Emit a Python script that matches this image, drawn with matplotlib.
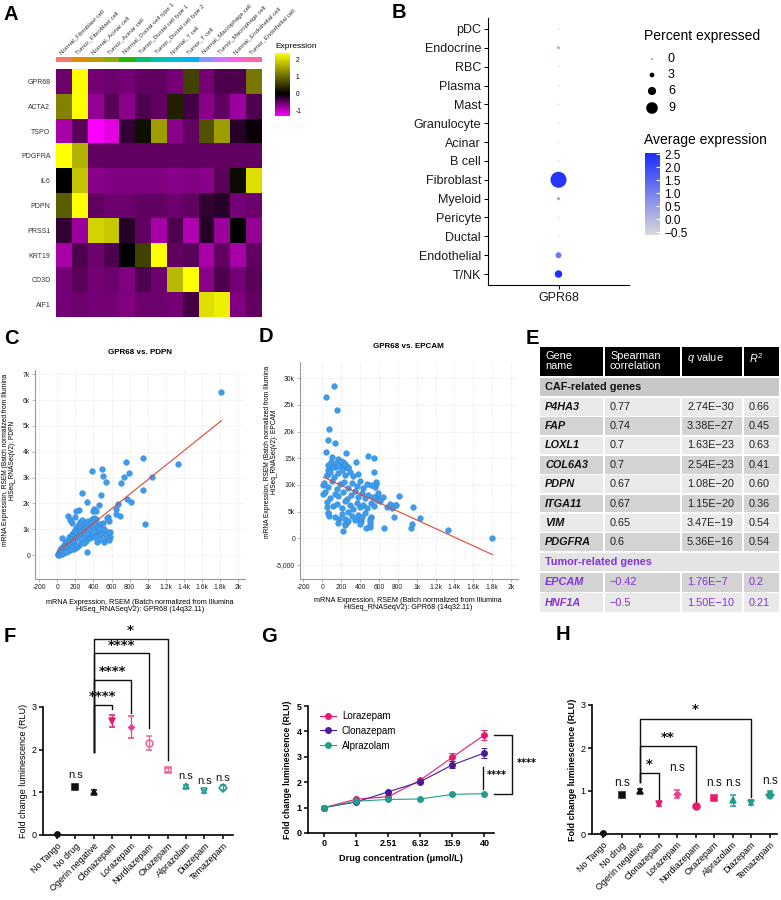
import numpy as np
import matplotlib
matplotlib.use("Agg")
import matplotlib.pyplot as plt
from matplotlib.colors import LinearSegmentedColormap, ListedColormap
from matplotlib.patches import Rectangle
from matplotlib.lines import Line2D

plt.rcParams['font.family'] = ['Liberation Sans', 'DejaVu Sans']
plt.rcParams['mathtext.fontset'] = 'custom'
plt.rcParams['mathtext.rm'] = 'Liberation Sans'
plt.rcParams['mathtext.it'] = 'Liberation Sans:italic'
plt.rcParams['mathtext.bf'] = 'Liberation Sans:bold'

# ---------------- data ----------------
# A: heatmap
hm_genes = ['GPR68', 'ACTA2', 'TSPO', 'PDGFRA', 'IL6', 'PDPN', 'PRSS1', 'KRT19', 'CD3D', 'AIF1']
hm_cells = ['Normal_Fibroblast cell', 'Tumor_Fibroblast cell', 'Normal_Acinar cell', 'Tumor_Acinar cell',
            'Normal_Ductal cell type 1', 'Tumor_Ductal cell type 1', 'Tumor_Ductal cell type 2',
            'Normal_T cell', 'Tumor_T cell', 'Normal_Macrophage cell', 'Tumor_Macrophage cell',
            'Normal_Endothelial cell', 'Tumor_Endothelial cell']
hm_values = np.array([
    [-0.55, 2.35, -0.6, -0.55, -0.6, -0.5, -0.5, -0.6, 0.6, -0.6, -0.4, -0.4, 1.1],
    [1.2, 2.35, -0.75, -0.45, -0.7, -0.4, -0.5, 0.3, -0.35, -0.7, -0.5, -0.8, -0.4],
    [-0.85, -0.45, -1.3, -1.15, -0.25, 0.15, 1.45, -0.7, -0.5, 0.75, 1.45, -0.2, -0.05],
    [2.35, 1.65, -0.5, -0.5, -0.5, -0.5, -0.5, -0.5, -0.5, -0.5, -0.5, -0.5, -0.5],
    [0.0, 1.8, -0.7, -0.65, -0.65, -0.65, -0.65, -0.7, -0.65, -0.7, -0.45, 0.1, 2.05],
    [0.85, 2.35, -0.5, -0.55, -0.55, -0.5, -0.5, -0.55, -0.5, -0.25, -0.2, -0.6, -0.55],
    [-0.25, -0.8, 1.95, 1.85, -0.2, -0.5, -0.85, -0.4, -0.9, -0.2, -0.8, 0.0, -0.75],
    [-0.85, -0.4, -0.55, -0.4, 0.0, 0.6, 2.35, -0.5, -0.45, -0.85, -0.5, -0.85, -0.5],
    [-0.6, -0.45, -0.6, -0.55, -0.65, -0.4, -0.55, 1.7, 2.35, -0.7, -0.4, -0.6, -0.45],
    [-0.6, -0.55, -0.6, -0.6, -0.65, -0.55, -0.55, -0.6, -0.35, 2.05, 2.2, -0.65, -0.5],
])
strip_colors = ['#F8766D', '#E18A00', '#BE9C00', '#8CAB00', '#24B700', '#00BE70', '#00C1AB',
                '#00BBDA', '#00ACFC', '#8B93FF', '#D575FE', '#F962DD', '#FF65AC']

# B: dot plot
b_cells = ['pDC', 'Endocrine', 'RBC', 'Plasma', 'Mast', 'Granulocyte', 'Acinar', 'B cell',
           'Fibroblast', 'Myeloid', 'Pericyte', 'Ductal', 'Endothelial', 'T/NK']
b_pct = [0.3, 1.6, 0.3, 0.3, 0.3, 0.3, 0.3, 0.35, 12.8, 1.7, 0.3, 0.3, 4.2, 5.4]
b_avg = [-0.5, 0.1, -0.5, -0.5, -0.5, -0.5, -0.5, -0.45, 2.35, 0.35, -0.5, -0.5, 1.1, 2.5]
b_leg_pct = [0, 3, 6, 9]

# C: GPR68 vs PDPN
c_x = [1814, 1336, 1049, 942, 950, 968, 762, 788, 740, 707, 770, 813, 670, 644, 648, 692, 497, 508, 541,
       379, 276, 324, 482, 460, 408, 395, 425, 243, 202, 121, 140, 158, 195, 563, 552, 574, 475, 581,
       560, 581, 515, 434, 331, 48,
       5, 10, 15, 20, 25, 30, 35, 40, 45, 50, 55, 60, 65, 70, 75, 80, 85, 90, 95, 100, 105, 110, 115,
       120, 125, 130, 135, 140, 145, 150, 155, 160, 165, 170, 175, 180, 185, 190, 195, 200, 205, 210,
       215, 220, 225, 230, 235, 240, 245, 250, 255, 260, 265, 270, 275, 280, 290, 300, 310, 320, 330,
       340, 350, 360, 370, 380, 390, 400, 410, 420, 430, 440, 450, 460, 470, 480, 490, 500, 520, 535,
       550, 570, 300, 320, 340, 360, 380, 400, 420, 260, 240, 220, 200, 180, 160, 140, 120, 100, 280, 300]
c_y = [6320, 3520, 3005, 3767, 2500, 1200, 3586, 3186, 3005, 2773, 2167, 2038, 1960, 1767, 1600, 1522,
       3341, 3057, 2838, 3250, 2400, 2038, 2322, 1935, 1780, 1720, 1690, 1754, 1716, 1509, 1354, 1225,
       1483, 1483, 1419, 1316, 1187, 903, 880, 709, 516, 490, 129, 670,
       0, 40, 100, 10, 150, 60, 200, 120, 260, 30, 180, 320, 90, 250, 400, 160, 300, 450, 210, 350, 520,
       260, 420, 600, 320, 480, 680, 380, 560, 750, 430, 620, 820, 500, 700, 900, 560, 760, 980, 620,
       840, 1050, 680, 900, 1120, 740, 960, 1200, 800, 1020, 1280, 860, 1080, 1350, 920, 1140, 980,
       1200, 1050, 1260, 1120, 1320, 1180, 1000, 1250, 1400, 1100, 1300, 1450, 1200, 1380, 900, 1100,
       760, 1000, 620, 840, 1250, 1000, 780, 650, 580, 700, 560, 820, 640, 760, 880, 700, 520, 400, 300,
       350, 250, 300, 200, 150, 100, 600, 450]
c_fit = (2.81, 105)

# D: GPR68 vs EPCAM
d_x = [127, 39, 155, 74, 64, 134, 39, 251, 106, 480, 544, 360, 544, 170, 219, 205, 88, 134, 276, 64, 46,
       11, 11, 53, 57, 71, 173, 222, 240, 265, 467, 406, 392, 505, 509, 519, 650, 760, 943, 947, 961,
       1039, 1332, 1802, 816, 781, 767, 647, 583, 558, 565, 615, 580, 682, 721, 742,
       64, 92, 116, 145, 170, 198, 222, 240, 276,
       46, 81, 127, 162, 205, 240, 293, 329, 382,
       21, 57, 99, 152, 187, 233, 276, 318, 364, 399, 435, 470, 516, 565,
       28, 81, 134, 170, 223, 258, 304, 346, 382, 417, 452, 488, 541, 587,
       46, 117, 152, 205, 240, 293, 329, 364, 399, 435, 470, 516, 551,
       64, 134, 205, 240, 276, 311, 346, 382, 417, 452, 505,
       170, 240, 276, 399, 505]
d_y = [28560, 26560, 24125, 20440, 18440, 17940, 16125, 16060, 15310, 15500, 15000, 14250, 12500, 14800,
       14250, 13625, 13625, 13440, 13125, 12800, 11875, 10000, 8250, 5800, 4700, 4250, 3560, 1440, 2625,
       3125, 1875, 3190, 3690, 2190, 2690, 4060, 2000, 4000, 2000, 2690, 5875, 3750, 1500, 0, 7875, 6310,
       6300, 7810, 7940, 9690, 10190, 7060, 7190, 5940, 6440, 5625,
       13800, 14300, 13400, 14100, 13600, 14500, 13200, 13900, 13400,
       11900, 12500, 11500, 12200, 12800, 11800, 12400, 11600, 12000,
       10400, 9600, 10800, 9300, 10100, 10600, 9500, 10300, 9800, 10700, 9400, 10200, 9900, 10500,
       8600, 7600, 8300, 7900, 8700, 7400, 8200, 8800, 7700, 8400, 7500, 8100, 7800, 8500,
       6800, 6000, 6500, 5700, 6900, 6200, 5500, 6600, 5900, 6300, 5600, 6700, 6100,
       4800, 4000, 4600, 3700, 5000, 4200, 3500, 4400, 3900, 4700, 3600,
       2900, 2500, 3200, 2700, 3300]
d_fit = (-8.1, 11550)
scat_xticks = [-200, 0, 200, 400, 600, 800, 1000, 1200, 1400, 1600, 1800, 2000]
scat_xlabels = ['-200', '0', '200', '400', '600', '800', '1k', '1.2k', '1.4k', '1.6k', '1.8k', '2k']

# E: table
e_genes = ['P4HA3', 'FAP', 'LOXL1', 'COL6A3', 'PDPN', 'ITGA11', 'VIM', 'PDGFRA']
e_rho = ['0.77', '0.74', '0.7', '0.7', '0.67', '0.67', '0.65', '0.6']
e_q = ['2.74E\u221230', '3.38E\u221227', '1.63E\u221223', '2.54E\u221223', '1.08E\u221220',
       '1.15E\u221220', '3.47E\u221219', '5.36E\u221216']
e_r2 = ['0.66', '0.45', '0.63', '0.41', '0.60', '0.36', '0.54', '0.54']
t_genes = ['EPCAM', 'HNF1A']
t_rho = ['\u22120.42', '\u22120.5']
t_q = ['1.76E\u22127', '1.50E\u221210']
t_r2 = ['0.2', '0.21']

# F / H: single dose screens
drugs = ['No Tango', 'No drug', 'Ogerin negative', 'Clonazepam', 'Lorazepam', 'Nordiazepam',
         'Oxazepam', 'Alprazolam', 'Diazepam', 'Temazepam']
f_mean = [0.02, 1.12, 1.00, 2.67, 2.53, 2.16, 1.52, 1.14, 1.02, 1.11]
f_err = [0.0, 0.02, 0.05, 0.14, 0.25, 0.17, 0.05, 0.03, 0.04, 0.06]
h_mean = [0.02, 0.91, 1.00, 0.70, 0.93, 0.66, 0.83, 0.78, 0.73, 0.91]
h_err = [0.0, 0.05, 0.04, 0.04, 0.10, 0.02, 0.03, 0.12, 0.05, 0.08]
# brackets: (from, to, top, right leg bottom, label, label y)
f_brackets = [(2, 3, 3.05, 2.95, '****', 3.25), (2, 4, 3.63, 2.85, '****', 3.84),
              (2, 5, 4.26, 2.5, '****', 4.45), (2, 6, 4.6, 1.75, '*', 4.8)]
f_leg_bottom = 1.95
h_brackets = [(2, 3, 1.42, 0.8, '*', 1.62), (2, 5, 2.05, 0.75, '**', 2.25), (2, 8, 2.67, 0.85, '*', 2.9)]
h_leg_bottom = 1.2
f_ns = {1: 1.3, 7: 1.27, 8: 1.14, 9: 1.21}
h_ns = {1: 1.05, 4: 1.4, 6: 1.05, 7: 1.05, 9: 1.1}

# G: dose response
g_conc = ['0', '1', '2.51', '6.32', '15.9', '40']
g_loraz = [1.0, 1.33, 1.43, 2.08, 2.98, 3.86]
g_loraz_err = [0.02, 0.04, 0.05, 0.06, 0.15, 0.2]
g_clonaz = [1.0, 1.22, 1.62, 2.02, 2.68, 3.15]
g_clonaz_err = [0.02, 0.03, 0.05, 0.05, 0.14, 0.18]
g_alpraz = [1.0, 1.25, 1.32, 1.34, 1.52, 1.55]
g_alpraz_err = [0.02, 0.03, 0.03, 0.03, 0.04, 0.03]

# ---------------- figure ----------------
W, H = 781, 900
fig = plt.figure(figsize=(W / 100, H / 100), dpi=100)


def px_axes(l, t, r, b):
    return fig.add_axes([l / W, 1 - b / H, (r - l) / W, (b - t) / H])


BLACK = '#111111'
PINK1 = '#E8196F'
PINK2 = '#EE3D8F'
PINK3 = '#F0609A'
TEAL = '#239C8D'
PURPLE = '#8533D6'
CLON = '#4B1A9A'

# ---- A ----
vmin, vmax = -1.3, 2.35
z0 = -vmin / (vmax - vmin)
hm_cmap = LinearSegmentedColormap.from_list('hm', [(0, '#FF00FF'), (z0, '#000000'), (1, '#FFFF00')])
ax_a = px_axes(56, 69, 262, 317)
im = ax_a.imshow(hm_values, cmap=hm_cmap, vmin=vmin, vmax=vmax, aspect='auto', interpolation='nearest')
ax_a.set_xticks([])
ax_a.set_yticks(range(len(hm_genes)), hm_genes, fontsize=5, color='#333333')
ax_a.tick_params(axis='y', length=0, pad=4)
for s in ax_a.spines.values():
    s.set_visible(False)

ax_strip = px_axes(56, 57, 262, 62)
ax_strip.imshow(np.arange(len(hm_cells))[None, :], cmap=ListedColormap(strip_colors), aspect='auto')
ax_strip.axis('off')

cax_a = px_axes(275, 53, 290, 116)
cb_a = fig.colorbar(im, cax=cax_a, ticks=[2, 1, 0, -1])
cb_a.ax.set_yticklabels(['2', '1', '0', '-1'])
cb_a.outline.set_visible(False)
cax_a.tick_params(labelsize=4.8, length=2, color='white', pad=2)

# ---- B ----
def dot_size(p):
    r = 0.6 + 0.58 * np.asarray(p, dtype=float)
    return (2 * r * 0.72) ** 2

b_cmap = LinearSegmentedColormap.from_list('b', ['#D9D9D9', '#1A2BFF'])
ax_b = px_axes(488, 18, 629, 285)
yb = np.arange(len(b_cells))
sc_b = ax_b.scatter(np.ones(len(b_cells)), yb, s=dot_size(b_pct), c=b_avg, cmap=b_cmap,
                    vmin=-0.6, vmax=2.55, linewidths=0)
ax_b.set_xlim(0, 2)
ax_b.set_ylim(13.58, -0.58)
ax_b.set_yticks(yb, b_cells, fontsize=9, color='#1a1a1a')
ax_b.set_xticks([1], ['GPR68'], fontsize=9, color='#1a1a1a')
ax_b.tick_params(length=3, width=0.7, pad=2)
for s in ['top', 'right']:
    ax_b.spines[s].set_visible(False)
for s in ['left', 'bottom']:
    ax_b.spines[s].set_linewidth(0.8)

cax_b = px_axes(645, 153, 660, 235)
b_ticks = [2.5, 2.0, 1.5, 1.0, 0.5, 0.0, -0.5]
cb_b = fig.colorbar(sc_b, cax=cax_b, ticks=b_ticks)
cb_b.ax.set_yticklabels([f'{t:.1f}'.replace('-', '\u2212') for t in b_ticks])
cb_b.outline.set_visible(False)
cax_b.tick_params(labelsize=8.5, length=3, color='white', direction='in', pad=3)

# ---- C, D ----
def corr_panel(ax, x, y, fit, xlim, ylim, yticks, ylabels):
    ax.set_xlim(xlim)
    ax.set_ylim(ylim)
    ax.set_xticks(scat_xticks, scat_xlabels)
    ax.set_yticks(yticks, ylabels)
    ax.grid(True, color='#E6E6E6', lw=0.5, ls=(0, (3, 2)))
    ax.set_axisbelow(True)
    ax.scatter(x, y, s=17, color='#3F9BEB', edgecolors='#2E84D6', linewidths=0.3, zorder=3)
    xs = np.array([min(x), max(x)])
    ax.plot(xs, fit[0] * xs + fit[1], color='#E0473A', lw=0.8, zorder=4)
    for s in ['top', 'right']:
        ax.spines[s].set_visible(False)
    for s in ['left', 'bottom']:
        ax.spines[s].set_color('#999999')
        ax.spines[s].set_linewidth(0.8)
    ax.tick_params(labelsize=4.9, length=2, width=0.5, color='#999999', labelcolor='#222222', pad=1.5)

ax_c = px_axes(35, 370, 245, 579)
corr_panel(ax_c, c_x, c_y, c_fit, (-246, 2074), (-929, 7162),
           [0, 1000, 2000, 3000, 4000, 5000, 6000, 7000], ['0', '1k', '2k', '3k', '4k', '5k', '6k', '7k'])
ax_d = px_axes(300, 362, 518, 579)
corr_panel(ax_d, d_x, d_y, d_fit, (-236, 2074), (-7630, 33050),
           [-5000, 0, 5000, 10000, 15000, 20000, 25000, 30000],
           ['-5,000', '0', '5k', '10k', '15k', '20k', '25k', '30k'])

# ---- E ----
ax_e = px_axes(539, 346, 780, 613)
ax_e.set_xlim(539, 780)
ax_e.set_ylim(613, 346)
ax_e.axis('off')
cols = [539, 604, 681, 743, 780]
g = 0.8
TFS = 7.8


def cell(x0, x1, y0, y1, color):
    ax_e.add_patch(Rectangle((x0 + g, y0 + g), x1 - x0 - 2 * g, y1 - y0 - 2 * g, color=color, lw=0))


for c in range(4):
    cell(cols[c], cols[c + 1], 346, 377, '#000000')
heads = ['Gene\nname', 'Spearman\ncorrelation', '$q$ value', '$R^2$']
for c, h in enumerate(heads):
    ax_e.text(cols[c] + 6, 351, h, color='white', fontsize=TFS, va='top', ha='left', linespacing=1.05)
cell(539, 780, 377, 397, '#C8C8C8')
ax_e.text(545, 387, 'CAF-related genes', fontsize=TFS, weight='bold', va='center', color='#111111')
rh = (552 - 397) / len(e_genes)
for r in range(len(e_genes)):
    y0 = 397 + r * rh
    bg = '#EAEAEA' if r % 2 == 0 else '#D3D3D3'
    for c in range(4):
        cell(cols[c], cols[c + 1], y0, y0 + rh, bg)
    yc = y0 + rh / 2
    ax_e.text(545, yc, e_genes[r], fontsize=TFS, weight='bold', style='italic', va='center', color='#111111')
    ax_e.text(610, yc, e_rho[r], fontsize=TFS, va='center', color='#222222')
    ax_e.text(687, yc, e_q[r], fontsize=TFS, va='center', color='#222222')
    ax_e.text(749, yc, e_r2[r], fontsize=TFS, va='center', color='#222222')
cell(539, 780, 552, 572, '#E4E4E4')
ax_e.text(545, 562, 'Tumor-related genes', fontsize=TFS, weight='bold', va='center', color=PURPLE)
for r in range(len(t_genes)):
    y0 = 572 + r * 20.5
    bg = '#D3D3D3' if r % 2 == 0 else '#EAEAEA'
    for c in range(4):
        cell(cols[c], cols[c + 1], y0, y0 + 20.5, bg)
    yc = y0 + 10.25
    ax_e.text(545, yc, t_genes[r], fontsize=TFS, weight='bold', style='italic', va='center', color=PURPLE)
    ax_e.text(610, yc, t_rho[r], fontsize=TFS, va='center', color=PURPLE)
    ax_e.text(687, yc, t_q[r], fontsize=TFS, va='center', color=PURPLE)
    ax_e.text(749, yc, t_r2[r], fontsize=TFS, va='center', color=PURPLE)

# ---- F, H ----
f_styles = [('o', BLACK, BLACK, 3.8), ('s', BLACK, BLACK, 4.2), ('^', BLACK, BLACK, 3.8),
            ('v', PINK1, PINK1, 4.5), ('D', PINK2, PINK2, 2.8), ('o', 'none', PINK3, 5),
            ('s', 'none', PINK3, 5), ('^', 'none', TEAL, 4.5), ('v', 'none', TEAL, 4.5),
            ('D', 'none', TEAL, 4)]
h_styles = [('o', BLACK, BLACK, 3.8), ('s', BLACK, BLACK, 4.5), ('^', BLACK, BLACK, 3.8),
            ('v', PINK1, PINK1, 4), ('D', PINK2, PINK2, 3.2), ('o', PINK1, PINK1, 5),
            ('s', PINK1, PINK1, 5), ('^', TEAL, TEAL, 5), ('v', TEAL, TEAL, 5),
            ('D', TEAL, TEAL, 4.5)]


def screen_panel(ax, means, errs, styles, xlim, brackets, leg_bottom, ns, bold_ylabel, star_fs, ns_fs):
    for i, (m, e, (mk, fc, ec, ms)) in enumerate(zip(means, errs, styles)):
        ax.errorbar(i, m, yerr=e, fmt=mk, mfc=fc, mec=ec, ecolor=ec, ms=ms, mew=1.1,
                    capsize=2, elinewidth=0.9, capthick=0.9, clip_on=False, zorder=3)
    ax.set_xlim(xlim)
    ax.set_ylim(0, 3)
    ax.set_yticks([0, 1, 2, 3])
    ax.set_xticks(range(len(drugs)))
    ax.set_xticklabels(drugs, rotation=45, ha='right', rotation_mode='anchor')
    ax.tick_params(axis='both', length=3, width=1.1, labelsize=6.5, pad=1.5)
    for s in ['top', 'right']:
        ax.spines[s].set_visible(False)
    for s in ['left', 'bottom']:
        ax.spines[s].set_linewidth(1.2)
    ax.set_ylabel('Fold change luminescence (RLU)', fontsize=6.5,
                  weight='bold' if bold_ylabel else 'normal', labelpad=3)
    for (i, j, top, rb, lab, ly) in brackets:
        ax.plot([i, i, j, j], [leg_bottom, top, top, rb], color=BLACK, lw=1.0, clip_on=False)
        ax.text((i + j) / 2, ly, lab, ha='center', va='center', fontsize=star_fs, color=BLACK,
                family='DejaVu Sans', weight='bold', clip_on=False)
    for k, y in ns.items():
        ax.text(k, y, 'n.s', ha='center', va='bottom', fontsize=ns_fs, color=BLACK)


ax_f = px_axes(43, 707, 233, 835)
screen_panel(ax_f, f_mean, f_err, f_styles, (-0.75, 9.55), f_brackets, f_leg_bottom, f_ns, False, 9.5, 8)
ax_h = px_axes(592, 705, 777, 834)
screen_panel(ax_h, h_mean, h_err, h_styles, (-0.6, 9.4), h_brackets, h_leg_bottom, h_ns, True, 9.5, 8.5)

# ---- G ----
ax_g = px_axes(308, 706, 494, 833)
xg = np.arange(len(g_conc))
g_series = [(g_loraz, g_loraz_err, PINK1, 'Lorazepam'),
            (g_clonaz, g_clonaz_err, CLON, 'Clonazepam'),
            (g_alpraz, g_alpraz_err, TEAL, 'Alprazolam')]
handles = []
for vals, errs, col, lab in g_series:
    ax_g.errorbar(xg, vals, yerr=errs, color=col, marker='o', ms=4, lw=0.8, capsize=2,
                  elinewidth=0.7, capthick=0.7, clip_on=False, zorder=3)
    handles.append(Line2D([], [], color=col, marker='o', ms=4, lw=0.8, label=lab))
ax_g.set_xlim(-0.5, 5.3)
ax_g.set_ylim(0, 5)
ax_g.set_yticks(range(6))
ax_g.set_xticks(xg, g_conc)
for lab in ax_g.get_xticklabels() + ax_g.get_yticklabels():
    lab.set_fontweight('bold')
ax_g.tick_params(length=3, width=1.1, labelsize=6.5, pad=1.5)
for s in ['top', 'right']:
    ax_g.spines[s].set_visible(False)
for s in ['left', 'bottom']:
    ax_g.spines[s].set_linewidth(1.2)
ax_g.set_ylabel('Fold change luminescence (RLU)', fontsize=6.3, weight='bold', labelpad=3)
ax_g.set_xlabel('Drug concentration (\u03bcmol/L)', fontsize=6.6, weight='bold', labelpad=4)
ax_g.legend(handles=handles, loc='upper left', bbox_to_anchor=(0.02, 1.03), frameon=False, fontsize=7,
            handlelength=1.6, labelspacing=0.5, handletextpad=0.6)
ax_g.plot([5.3, 5.86, 5.86, 5.3], [g_loraz[-1], g_loraz[-1], g_alpraz[-1], g_alpraz[-1]],
          color=BLACK, lw=1.0, clip_on=False)
ax_g.text(6.0, 2.75, '****', fontsize=7, va='center', ha='left', family='DejaVu Sans',
          weight='bold', clip_on=False)
ax_g.plot([4.97, 4.97], [2.6, 1.75], color=BLACK, lw=1.0, clip_on=False)
ax_g.text(5.07, 2.3, '****', fontsize=7, va='center', ha='left', family='DejaVu Sans', weight='bold')

# ---- overlay text ----
ov = px_axes(0, 0, W, H)
ov.set_xlim(0, W)
ov.set_ylim(H, 0)
ov.axis('off')
ov.patch.set_alpha(0)

for lab, x, y in [('A', 4, 14), ('B', 392, 13), ('C', 4, 338), ('D', 259, 336), ('E', 526, 338),
                  ('F', 4, 637), ('G', 261, 637), ('H', 556, 635)]:
    ov.text(x, y, lab, fontsize=14.5, weight='bold', va='center', ha='left')

cw = 206 / len(hm_cells)
for i, name in enumerate(hm_cells):
    ov.text(56 + (i + 0.5) * cw - 1.5, 55, name, rotation=45, ha='left', va='bottom',
            rotation_mode='anchor', fontsize=4.4, color='#333333')
ov.text(275, 47, 'Expression', fontsize=6, va='center', ha='left')

ov.text(644, 36, 'Percent expressed', fontsize=10, va='center', ha='left')
leg_y = [59, 75, 91, 108]
ov.scatter([652] * 4, leg_y, s=dot_size(b_leg_pct), color='black', linewidths=0)
for p, y in zip(b_leg_pct, leg_y):
    ov.text(668, y, str(p), fontsize=9, va='center', ha='left')
ov.text(644, 140, 'Average expression', fontsize=10, va='center', ha='left')

ov.text(140, 353, 'GPR68 vs. PDPN', fontsize=5.8, weight='bold', ha='center', va='center')
ov.text(408, 347, 'GPR68 vs. EPCAM', fontsize=5.8, weight='bold', ha='center', va='center')
xl = 'mRNA Expression, RSEM (Batch normalized from Illumina\nHiSeq_RNASeqV2): GPR68 (14q32.11)'
ov.text(140, 606, xl, fontsize=5.2, ha='center', va='center', linespacing=1.0)
ov.text(408, 604, xl, fontsize=5.2, ha='center', va='center', linespacing=1.0)
ov.text(9, 460, 'mRNA Expression, RSEM (Batch normalized from Illumina\nHiSeq_RNASeqV2): PDPN',
        fontsize=4.8, ha='center', va='center', rotation=90, linespacing=1.0)
ov.text(271, 452, 'mRNA Expression, RSEM (Batch normalized from Illumina\nHiSeq_RNASeqV2): EPCAM',
        fontsize=4.8, ha='center', va='center', rotation=90, linespacing=1.0)

fig.savefig('out.png', dpi=100)
